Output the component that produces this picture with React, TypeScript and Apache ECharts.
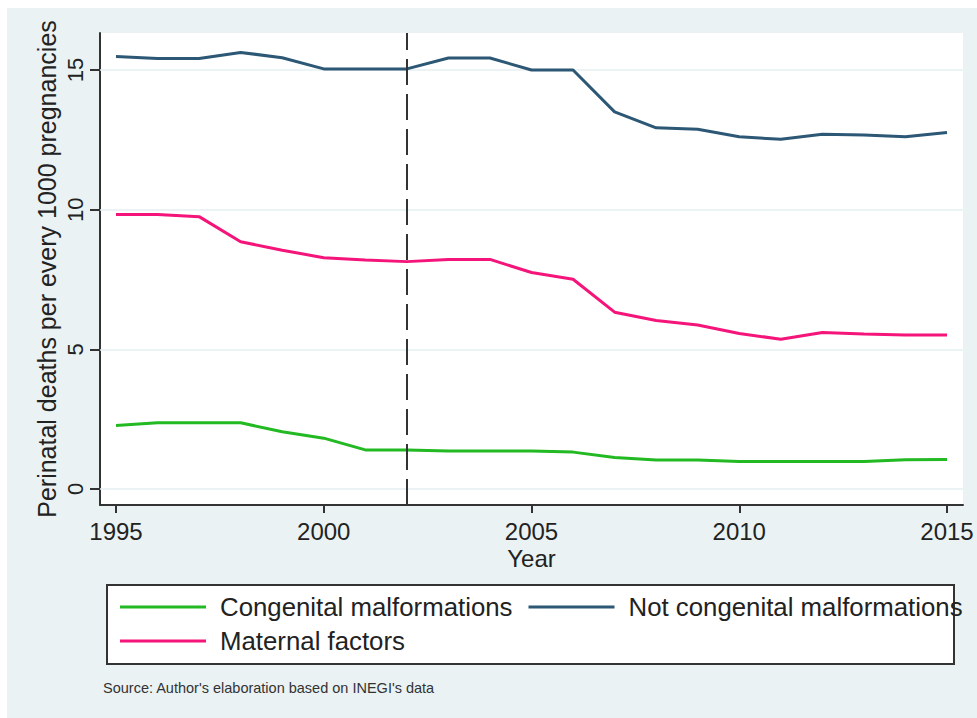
import React, { useEffect, useRef } from "react";
import * as echarts from "echarts";

const years = [1995, 1996, 1997, 1998, 1999, 2000, 2001, 2002, 2003, 2004, 2005, 2006, 2007, 2008, 2009, 2010, 2011, 2012, 2013, 2014, 2015];
const congenital = [2.27, 2.37, 2.37, 2.37, 2.05, 1.82, 1.4, 1.4, 1.36, 1.36, 1.36, 1.32, 1.13, 1.04, 1.04, 0.98, 0.98, 0.98, 0.98, 1.05, 1.06];
const notCongenital = [15.48, 15.41, 15.41, 15.63, 15.44, 15.04, 15.04, 15.04, 15.43, 15.43, 15.0, 15.0, 13.5, 12.93, 12.88, 12.61, 12.52, 12.7, 12.67, 12.61, 12.76];
const maternal = [9.83, 9.83, 9.75, 8.85, 8.55, 8.28, 8.2, 8.14, 8.22, 8.22, 7.75, 7.51, 6.33, 6.03, 5.87, 5.57, 5.36, 5.6, 5.55, 5.51, 5.51];
const xTicks = [1995, 2000, 2005, 2010, 2015];
const yTicks = [0, 5, 10, 15];
const policyYear = 2002;
const seriesNames = ["Congenital malformations", "Not congenital malformations", "Maternal factors"];

const OX = 7;
const OY = 8;
const FONT = "'Liberation Sans', Arial, sans-serif";

export default function App() {
  const ref = useRef<HTMLDivElement>(null);
  useEffect(() => {
    const chart = echarts.init(ref.current!, null, { renderer: "svg" });
    const pair = (arr: number[]) => years.map((y, i) => [y, arr[i]]);
    const legendCommon = {
      left: 120 - OX,
      padding: 0,
      orient: "horizontal",
      itemWidth: 86,
      itemHeight: 3,
      itemGap: 16,
      icon: "rect",
      textStyle: { fontSize: 25.8, color: "#222", padding: [0, 0, 0, 9], fontFamily: FONT },
      z: 10,
    };
    chart.setOption({
      animation: false,
      backgroundColor: "#eaf2f3",
      textStyle: { fontFamily: FONT },
      grid: {
        left: 100 - OX,
        right: 977 - 963,
        top: 33 - OY,
        bottom: 718 - 505,
        show: true,
        backgroundColor: "#ffffff",
        borderWidth: 0,
      },
      xAxis: {
        type: "value",
        min: 1994.615,
        max: 2015.385,
        name: "Year",
        nameLocation: "middle",
        nameGap: 44,
        nameMoveOverlap: false,
        nameTextStyle: { fontSize: 24, lineHeight: 19, color: "#222", fontFamily: FONT },
        axisLine: { show: true, onZero: false, lineStyle: { color: "#333", width: 2 } },
        axisTick: { show: true, length: 8, customValues: xTicks, lineStyle: { color: "#333", width: 2 } },
        axisLabel: { customValues: xTicks, fontSize: 24, lineHeight: 19, color: "#222", margin: 17, fontFamily: FONT, formatter: (v: number) => String(v) },
        splitLine: { show: false },
      },
      yAxis: {
        type: "value",
        min: -0.573,
        max: 16.325,
        name: "Perinatal deaths per every 1000 pregnancies",
        nameLocation: "middle",
        nameGap: 41,
        nameRotate: 90,
        nameMoveOverlap: false,
        nameTextStyle: { fontSize: 25, color: "#222", fontFamily: FONT },
        axisLine: { show: true, onZero: false, lineStyle: { color: "#333", width: 2 } },
        axisTick: { show: true, length: 10, customValues: yTicks, lineStyle: { color: "#333", width: 2 } },
        axisLabel: { customValues: yTicks, rotate: 90, fontSize: 22, color: "#222", margin: 14, fontFamily: FONT, formatter: (v: number) => String(v) },
        splitLine: { show: false },
      },
      legend: [
        { ...legendCommon, top: 594 - OY, data: [seriesNames[0], seriesNames[1]] },
        { ...legendCommon, top: 628 - OY, data: [seriesNames[2]] },
      ],
      graphic: [
        {
          type: "rect",
          z: 1,
          shape: { x: 107 - OX, y: 585 - OY, width: 847, height: 79 },
          style: { fill: "#ffffff", stroke: "#333", lineWidth: 2 },
        },
        {
          type: "text",
          z: 1,
          style: {
            x: 103 - OX,
            y: 688 - OY,
            text: "Source: Author's elaboration based on INEGI's data",
            fontSize: 14.5,
            fontFamily: FONT,
            fill: "#333",
            verticalAlign: "middle",
          },
        },
      ],
      series: [
        {
          name: seriesNames[0],
          type: "line",
          z: 2,
          data: pair(congenital),
          color: "#22b922",
          lineStyle: { width: 3 },
          showSymbol: false,
          symbol: "none",
          markLine: {
            z: 1,
            silent: true,
            symbol: "none",
            label: { show: false },
            lineStyle: { type: "solid", color: "#e6eff1", width: 1.5 },
            data: yTicks.map((v) => ({ yAxis: v })),
          },
        },
        {
          name: seriesNames[1],
          type: "line",
          z: 3,
          data: pair(notCongenital),
          color: "#2c5775",
          lineStyle: { width: 3 },
          showSymbol: false,
          symbol: "none",
        },
        {
          name: seriesNames[2],
          type: "line",
          z: 3,
          data: pair(maternal),
          color: "#f5147a",
          lineStyle: { width: 3 },
          showSymbol: false,
          symbol: "none",
          markLine: {
            z: 5,
            silent: true,
            symbol: "none",
            label: { show: false },
            lineStyle: { type: [26, 9], color: "#333", width: 2 },
            data: [{ xAxis: policyYear }],
          },
        },
      ],
    });
    return () => chart.dispose();
  }, []);
  return (
    <div style={{ position: "absolute", left: 0, top: 0, width: 977, height: 718, background: "#ffffff" }}>
      <div ref={ref} style={{ position: "absolute", left: OX, top: OY, width: 977 - OX, height: 718 - OY }} />
    </div>
  );
}
